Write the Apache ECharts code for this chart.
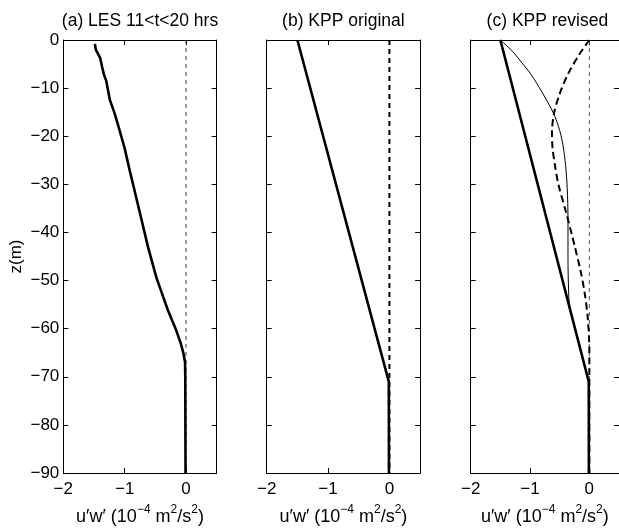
<!DOCTYPE html>
<html>
<head>
<meta charset="utf-8">
<script src="https://cdn.jsdelivr.net/npm/echarts@6/dist/echarts.min.js"></script>
<style>html,body{margin:0;padding:0;background:#fff}#c{width:619px;height:531px}</style>
</head>
<body>
<div id="c"></div>
<script>
// ---- data ----
const panelTitles = ['(a) LES 11<t<20 hrs', '(b) KPP original', '(c) KPP revised'];
const yTicks = [0, -10, -20, -30, -40, -50, -60, -70, -80, -90];
const xTicks = [-2, -1, 0];

// panel (a) LES
const lesU = [-1.485, -1.47, -1.40, -1.365, -1.34, -1.30, -1.27, -1.24, -1.17, -1.10, -1.00, -0.92, -0.75, -0.62, -0.48, -0.30, -0.17, -0.087, -0.044, -0.016, -0.012, -0.01, -0.008];
const lesZ = [-0.8, -2, -3.7, -5.7, -7.1, -8.5, -10.5, -12.5, -15, -18, -22.5, -27, -36, -43, -49.5, -56, -60, -63, -65, -67, -70, -80, -90];
const zeroU = [0, 0];
const zeroZ = [0, -90];

// panel (b) KPP original
const origU = [-1.5, -0.01, -0.008];
const origZ = [0, -71, -90];

// panel (c) KPP revised
const revThickU = [-1.5, -0.01, -0.008];
const revThickZ = [0, -71, -90];
const revThinU = [-1.5, -1.3, -1.12, -0.985, -0.8, -0.605, -0.50, -0.443, -0.40, -0.373, -0.36, -0.36, -0.35, -0.33, -0.17, -0.01];
const revThinZ = [0, -2.3, -5, -7.1, -10.8, -15.2, -18.8, -22, -26.1, -30.8, -37, -45, -52, -55.5, -63.2, -71];
const revDashU = [0, -0.17, -0.36, -0.50, -0.595, -0.63, -0.62, -0.58, -0.52, -0.39, -0.25, -0.146, -0.076, -0.028, 0, 0];
const revDashZ = [0, -3, -7.1, -11.2, -15.2, -19.3, -22.5, -26, -30.1, -35.9, -42.7, -48.1, -52.8, -57.6, -64.4, -90];

// ---- chart ----
const FONT = "'Liberation Sans', Arial, Helvetica, sans-serif";
const pairs = (u, z) => u.map((v, i) => [v, z[i]]);
const minus = v => String(v).replace('-', '\u2212');

const lefts = [63.3, 266.7, 470.7];
const gW = 153.4, gTop = 40, gH = 442.7;

const grids = lefts.map(l => ({left: l, top: gTop, width: gW, height: gH, containLabel: false}));

const xAxes = [], yAxes = [];
lefts.forEach((l, i) => {
  xAxes.push({
    gridIndex: i, type: 'value', min: -2, max: 0.5, interval: 1, position: 'bottom',
    axisLine: {show: true, onZero: false, lineStyle: {color: '#000', width: 1}},
    axisTick: {show: true, inside: true, length: 5, lineStyle: {color: '#000'}},
    axisLabel: {show: true, margin: 8, color: '#000', fontSize: 17, fontFamily: FONT,
      showMaxLabel: false, formatter: v => xTicks.includes(v) ? minus(v) : ''},
    splitLine: {show: false},
    name: '{n|u\u2032w\u2032 (10}{s|\u22124}{n| m}{s|2}{n|/s}{s|2}{n|)}',
    nameLocation: 'middle', nameGap: 31,
    nameTextStyle: {rich: {
      n: {fontSize: 18, fontFamily: FONT, color: '#000', lineHeight: 22, verticalAlign: 'bottom'},
      s: {fontSize: 12, fontFamily: FONT, color: '#000', verticalAlign: 'top'}
    }}
  });
});
lefts.forEach((l, i) => {
  xAxes.push({
    gridIndex: i, type: 'value', min: -2, max: 0.5, interval: 1, position: 'top',
    axisLine: {show: true, onZero: false, lineStyle: {color: '#000', width: 1}},
    axisTick: {show: true, inside: true, length: 5, lineStyle: {color: '#000'}},
    axisLabel: {show: false}, splitLine: {show: false}
  });
});
lefts.forEach((l, i) => {
  const y = {
    gridIndex: i, type: 'value', min: -90, max: 0, interval: 10, position: 'left',
    axisLine: {show: true, onZero: false, lineStyle: {color: '#000', width: 1}},
    axisTick: {show: true, inside: true, length: 5, lineStyle: {color: '#000'}},
    axisLabel: {show: i === 0, margin: 4, color: '#000', fontSize: 17, fontFamily: FONT,
      formatter: v => yTicks.includes(v) ? minus(v) : ''},
    splitLine: {show: false}
  };
  if (i === 0) {
    y.name = 'z(m)';
    y.nameLocation = 'middle';
    y.nameGap = 38;
    y.nameTextStyle = {fontSize: 17, fontFamily: FONT, color: '#000'};
  }
  yAxes.push(y);
});
lefts.forEach((l, i) => {
  yAxes.push({
    gridIndex: i, type: 'value', min: -90, max: 0, interval: 10, position: 'right',
    axisLine: {show: true, onZero: false, lineStyle: {color: '#000', width: 1}},
    axisTick: {show: true, inside: true, length: 5, lineStyle: {color: '#000'}},
    axisLabel: {show: false}, splitLine: {show: false}
  });
});

function line(idx, u, z, width, type, color, smooth) {
  return {
    type: 'line', xAxisIndex: idx, yAxisIndex: idx, data: pairs(u, z),
    showSymbol: false, symbol: 'none', silent: true, animation: false, clip: false,
    smooth: smooth || false,
    lineStyle: {color: color || '#000', width: width, type: type || 'solid'},
    z: 3
  };
}

const series = [
  line(0, zeroU, zeroZ, 1, [4, 4], '#444'),
  line(0, lesU, lesZ, 2.6),
  line(1, zeroU, zeroZ, 2, [5, 4], '#000'),
  line(1, origU, origZ, 2.6),
  line(2, zeroU, zeroZ, 1, [4, 4], '#555'),
  line(2, revDashU, revDashZ, 2, [7, 4], '#000', 0.3),
  line(2, revThinU, revThinZ, 1, 'solid', '#000', 0.3),
  line(2, revThickU, revThickZ, 2.6)
];

const graphics = panelTitles.map((t, i) => ({
  type: 'text', x: lefts[i] + gW / 2, y: 21,
  style: {text: t, fill: '#000', font: '17.5px ' + FONT, fontSize: 17.5, fontFamily: FONT,
    align: 'center', verticalAlign: 'middle', textAlign: 'center', textVerticalAlign: 'middle'}
}));

const chart = echarts.init(document.getElementById('c'), null, {renderer: 'canvas'});
chart.setOption({
  animation: false,
  backgroundColor: '#fff',
  grid: grids,
  xAxis: xAxes,
  yAxis: yAxes,
  series: series,
  graphic: graphics
});
</script>
</body>
</html>
